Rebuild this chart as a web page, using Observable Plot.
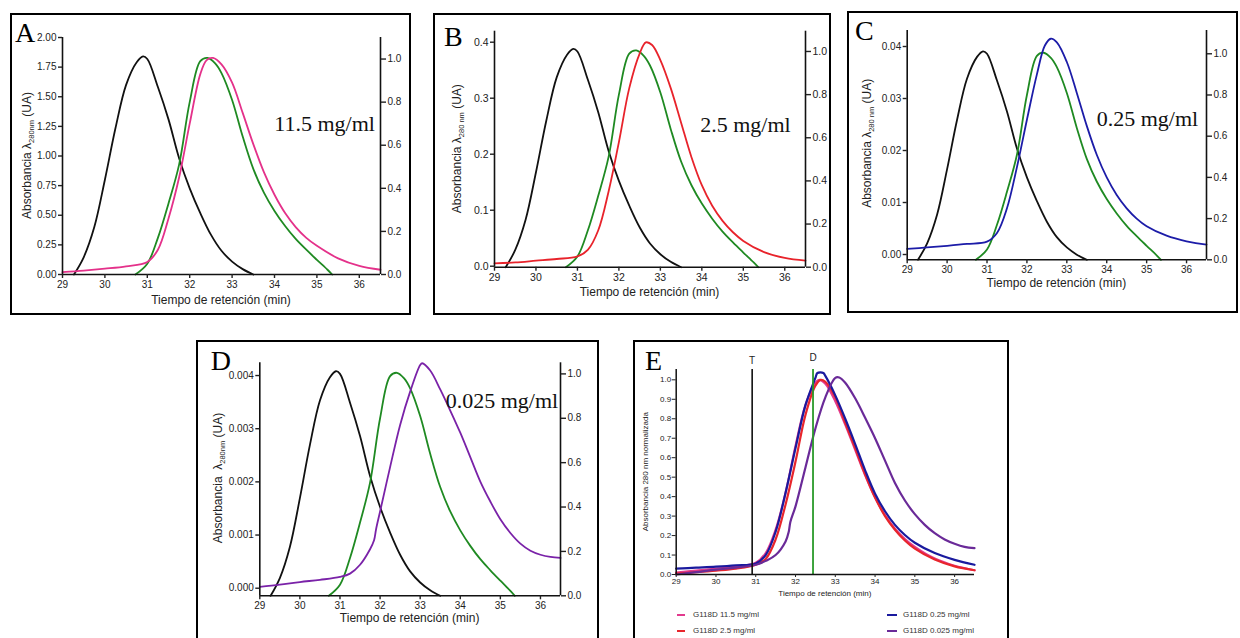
<!DOCTYPE html>
<html><head><meta charset="utf-8">
<script src="https://cdn.jsdelivr.net/npm/d3@7"></script>
<script src="https://cdn.jsdelivr.net/npm/@observablehq/plot@0.6"></script>
<style>
body{margin:0;background:#fff;width:1240px;height:638px;overflow:hidden;position:relative;font-family:"Liberation Sans",Arial,sans-serif;}
.box{position:absolute;border:2px solid #000;box-sizing:border-box;overflow:hidden;background:#fff}
.box svg{position:absolute;left:0;top:0}
.leg{position:absolute;font-size:8px;color:#333;line-height:1;white-space:nowrap}
.sw{position:absolute;height:2px}
</style></head><body>
<script>
// ---------------- DATA ----------------
// retention time axis ticks
const xTicks = [29, 30, 31, 32, 33, 34, 35, 36];
const rightTicks = [0, 0.2, 0.4, 0.6, 0.8, 1.0];

// Standard T (black), normalized
const tT = [29.27, 29.5, 29.75, 30.0, 30.25, 30.5, 30.75, 30.9, 31.0, 31.25, 31.5, 31.75, 32.0, 32.25, 32.5, 32.75, 33.0, 33.25, 33.5];
const vT = [0, 0.08, 0.22, 0.44, 0.68, 0.88, 0.985, 1.012, 1.0, 0.87, 0.72, 0.54, 0.40, 0.285, 0.185, 0.11, 0.06, 0.025, 0];

// Standard D (green), normalized
const tG = [30.72, 31.0, 31.25, 31.5, 31.75, 32.0, 32.25, 32.42, 32.6, 32.75, 33.0, 33.25, 33.5, 33.75, 34.0, 34.25, 34.5, 34.75, 35.0, 35.25, 35.36];
const vG = [0, 0.05, 0.17, 0.33, 0.51, 0.80, 0.99, 1.005, 0.98, 0.935, 0.81, 0.64, 0.49, 0.38, 0.295, 0.225, 0.165, 0.115, 0.068, 0.022, 0];

// G118D 11.5 mg/ml (panel A, pink)
const tA = [29.0, 29.5, 30.0, 30.5, 31.0, 31.25, 31.5, 31.75, 32.0, 32.25, 32.4, 32.55, 32.75, 33.0, 33.25, 33.5, 33.75, 34.0, 34.25, 34.5, 34.75, 35.0, 35.5, 36.0, 36.5];
const vA = [0.011, 0.018, 0.027, 0.038, 0.058, 0.115, 0.26, 0.45, 0.70, 0.93, 0.995, 1.005, 0.975, 0.89, 0.75, 0.605, 0.475, 0.37, 0.285, 0.22, 0.17, 0.133, 0.075, 0.04, 0.022];

// G118D 2.5 mg/ml (panel B, red)
const tB = [29.0, 29.5, 30.0, 30.5, 31.0, 31.25, 31.5, 31.75, 32.0, 32.25, 32.5, 32.65, 32.8, 33.0, 33.25, 33.5, 33.75, 34.0, 34.25, 34.5, 34.75, 35.0, 35.5, 36.0, 36.5];
const vB = [0.018, 0.022, 0.03, 0.038, 0.05, 0.08, 0.17, 0.35, 0.58, 0.83, 0.99, 1.042, 1.03, 0.96, 0.83, 0.67, 0.51, 0.38, 0.285, 0.215, 0.162, 0.122, 0.07, 0.043, 0.03];

// G118D 0.25 mg/ml (panel C, blue)
const tC = [29.0, 29.5, 30.0, 30.5, 31.0, 31.25, 31.5, 31.75, 32.0, 32.25, 32.45, 32.6, 32.75, 33.0, 33.25, 33.5, 33.75, 34.0, 34.25, 34.5, 34.75, 35.0, 35.5, 36.0, 36.5];
const vC = [0.053, 0.06, 0.068, 0.077, 0.088, 0.13, 0.25, 0.45, 0.68, 0.90, 1.04, 1.073, 1.055, 0.96, 0.81, 0.65, 0.51, 0.40, 0.315, 0.25, 0.2, 0.163, 0.117, 0.09, 0.074];

// G118D 0.025 mg/ml (panel D, purple)
const tD = [29.0, 29.5, 30.0, 30.5, 31.0, 31.25, 31.5, 31.75, 31.85, 31.9, 32.0, 32.25, 32.5, 32.75, 33.0, 33.05, 33.25, 33.5, 33.75, 34.0, 34.25, 34.5, 34.75, 35.0, 35.25, 35.5, 35.75, 36.0, 36.25, 36.5];
const vD = [0.04, 0.05, 0.062, 0.072, 0.085, 0.10, 0.14, 0.21, 0.25, 0.30, 0.38, 0.58, 0.77, 0.92, 1.04, 1.048, 1.015, 0.93, 0.835, 0.735, 0.625, 0.515, 0.425, 0.345, 0.283, 0.235, 0.203, 0.185, 0.175, 0.171];

// Panel E, normalized absorbance
const tE1 = [29.0, 29.5, 30.0, 30.5, 31.0, 31.25, 31.5, 31.75, 32.0, 32.25, 32.5, 32.6, 32.75, 33.0, 33.25, 33.5, 33.75, 34.0, 34.25, 34.5, 34.75, 35.0, 35.5, 36.0, 36.5];
const vE1 = [0.01, 0.02, 0.03, 0.04, 0.06, 0.11, 0.23, 0.42, 0.66, 0.87, 0.985, 1.0, 0.98, 0.89, 0.77, 0.64, 0.51, 0.395, 0.305, 0.235, 0.182, 0.142, 0.082, 0.045, 0.022];
const tE2 = [29.0, 29.5, 30.0, 30.5, 31.0, 31.25, 31.5, 31.75, 32.0, 32.25, 32.5, 32.63, 32.75, 33.0, 33.25, 33.5, 33.75, 34.0, 34.25, 34.5, 34.75, 35.0, 35.5, 36.0, 36.5];
const vE2 = [0.005, 0.012, 0.02, 0.03, 0.05, 0.08, 0.18, 0.36, 0.58, 0.82, 0.97, 1.0, 0.99, 0.91, 0.78, 0.65, 0.515, 0.395, 0.30, 0.23, 0.175, 0.133, 0.077, 0.042, 0.022];
const tE3 = [29.0, 29.5, 30.0, 30.5, 31.0, 31.25, 31.5, 31.75, 32.0, 32.25, 32.5, 32.55, 32.7, 32.75, 33.0, 33.25, 33.5, 33.75, 34.0, 34.25, 34.5, 34.75, 35.0, 35.5, 36.0, 36.5];
const vE3 = [0.03, 0.035, 0.04, 0.047, 0.057, 0.10, 0.22, 0.42, 0.65, 0.87, 1.01, 1.035, 1.035, 1.02, 0.92, 0.80, 0.67, 0.535, 0.415, 0.325, 0.255, 0.203, 0.163, 0.11, 0.075, 0.05];
const tE4 = [29.0, 29.5, 30.0, 30.5, 31.0, 31.25, 31.5, 31.75, 31.83, 31.87, 32.0, 32.25, 32.5, 32.75, 33.0, 33.1, 33.25, 33.5, 33.75, 34.0, 34.25, 34.5, 34.75, 35.0, 35.25, 35.5, 35.75, 36.0, 36.25, 36.5];
const vE4 = [0.0, 0.012, 0.025, 0.035, 0.05, 0.07, 0.10, 0.17, 0.22, 0.27, 0.35, 0.55, 0.75, 0.91, 1.01, 1.012, 0.985, 0.905, 0.805, 0.70, 0.585, 0.47, 0.38, 0.31, 0.255, 0.212, 0.18, 0.158, 0.142, 0.135];
const markerT = 30.91, markerD = 32.44;

// left-axis tick values and labels
const leftTicksA = [0, 0.25, 0.5, 0.75, 1.0, 1.25, 1.5, 1.75, 2.0];
const leftLabelsA = ["0.00", "0.25", "0.50", "0.75", "1.00", "1.25", "1.50", "1.75", "2.00"];
const leftTicksB = [0, 0.1, 0.2, 0.3, 0.4];
const leftLabelsB = ["0.0", "0.1", "0.2", "0.3", "0.4"];
const leftTicksC = [0, 0.01, 0.02, 0.03, 0.04];
const leftLabelsC = ["0.00", "0.01", "0.02", "0.03", "0.04"];
const leftTicksD = [0, 0.001, 0.002, 0.003, 0.004];
const leftLabelsD = ["0.000", "0.001", "0.002", "0.003", "0.004"];
const eTicks = [0, 0.1, 0.2, 0.3, 0.4, 0.5, 0.6, 0.7, 0.8, 0.9, 1.0];

const concLabels = ["11.5 mg/ml", "2.5 mg/ml", "0.25 mg/ml", "0.025 mg/ml"];
const legendLabels = ["G118D 11.5 mg/ml", "G118D 2.5 mg/ml", "G118D 0.25 mg/ml", "G118D 0.025 mg/ml"];

// ---------------- STYLE ----------------
const C_BLACK = "#111", C_GREEN = "#1f8a22";
const sampleColors = ["#e4318a", "#e8232b", "#1c1ca8", "#7a22a8"];
const eColors = ["#e23a8e", "#e8262c", "#1a1a9e", "#6a2a98"];
const FONT = "'Liberation Sans', Arial, Helvetica, sans-serif";
const SERIF = "'Liberation Serif', 'Times New Roman', serif";
const CURVE = "catmull-rom";

const rows = (t, v) => t.map((x, i) => ({t: x, v: v[i]}));

function mkBox(l, t, w, h) {
  const box = document.createElement("div");
  box.className = "box";
  Object.assign(box.style, {left: l + "px", top: t + "px", width: w + "px", height: h + "px"});
  document.body.appendChild(box);
  return box;
}

function addText(svg, x, y, txt, opts = {}) {
  return d3.select(svg).append("text").attr("x", x).attr("y", y)
    .attr("font-family", opts.family || FONT).attr("font-size", opts.size || 12)
    .attr("fill", opts.fill || "#222").attr("text-anchor", opts.anchor || "start").text(txt);
}

function panel(cfg) {
  const box = mkBox(cfg.l, cfg.t, cfg.w, cfg.h);
  const W = cfg.w - 4;
  const leftPos = cfg.leftTicks.map(v => cfg.a + cfg.b * v);
  const lab = new Map(leftPos.map((p, i) => [p, cfg.leftLabels[i]]));
  const svg = Plot.plot({
    width: W, height: cfg.svgH,
    marginLeft: cfg.mL, marginRight: cfg.mR, marginTop: cfg.mT, marginBottom: cfg.mB,
    x: {domain: [29, 36.5], label: null},
    y: {domain: [0, cfg.ymax], label: null},
    style: {fontFamily: FONT, fontSize: cfg.fs + "px", color: "#222", background: "transparent", overflow: "visible"},
    marks: [
      Plot.line(rows(tT, vT), {x: "t", y: "v", stroke: C_BLACK, strokeWidth: 1.8, curve: CURVE}),
      Plot.line(rows(tG, vG), {x: "t", y: "v", stroke: C_GREEN, strokeWidth: 1.8, curve: CURVE}),
      Plot.line(rows(cfg.ts, cfg.vs), {x: "t", y: "v", stroke: cfg.color, strokeWidth: 1.8, curve: CURVE}),
      Plot.ruleY([0], {stroke: "#111", strokeWidth: 1.6}),
      Plot.ruleX([29], {stroke: "#111", strokeWidth: 1.6}),
      Plot.ruleX([36.5], {stroke: "#111", strokeWidth: 1.6}),
      Plot.axisX(xTicks, {tickSize: 4, tickPadding: 2, tickFormat: d => String(d), label: null, strokeWidth: 1.4}),
      Plot.axisY(leftPos, {anchor: "left", tickSize: 4, tickPadding: 2, tickFormat: d => lab.get(d), label: null, strokeWidth: 1.4}),
      Plot.axisY(rightTicks, {anchor: "right", tickSize: 5, tickPadding: 2, tickFormat: d3.format(".1f"), label: null, strokeWidth: 1.4}),
      Plot.text([cfg.conc], {x: () => cfg.cx, y: () => cfg.cy, fontFamily: SERIF, fontSize: 22, fill: "#111"})
    ]
  });
  box.appendChild(svg);
  // y-axis title with subscript
  const yt = d3.select(svg).append("text")
    .attr("transform", `translate(${cfg.ytx},${cfg.yty}) rotate(-90)`)
    .attr("text-anchor", "middle").attr("font-family", FONT).attr("font-size", 12).attr("fill", "#222");
  yt.append("tspan").text(cfg.ytPre);
  yt.append("tspan").attr("font-size", 7.5).attr("dy", 3).text(cfg.ytSub);
  yt.append("tspan").attr("dy", -3).text(" (UA)");
  // x-axis title
  addText(svg, cfg.mL + (W - cfg.mL - cfg.mR) / 2, cfg.xtb, "Tiempo de retención (min)", {anchor: "middle", size: 12});
  // panel letter
  addText(svg, cfg.lx, cfg.ly, cfg.letter, {family: SERIF, size: 28, fill: "#000"});
}

panel({letter: "A", l: 10, t: 13, w: 401, h: 302, svgH: 298, mL: 50, mR: 29, mT: 22, mB: 39, ymax: 1.1, fs: 10,
  leftTicks: leftTicksA, leftLabels: leftLabelsA, a: 0, b: 0.55,
  ts: tA, vs: vA, color: sampleColors[0], conc: concLabels[0], cx: 35.18, cy: 0.70,
  ytx: 19, yty: 140.5, ytPre: "Absorbancia λ", ytSub: "280nm", xtb: 289, lx: 3, ly: 27});

panel({letter: "B", l: 433, t: 13, w: 398, h: 302, svgH: 298, mL: 59, mR: 24, mT: 15.7, mB: 46.3, ymax: 1.094, fs: 10.5,
  leftTicks: leftTicksB, leftLabels: leftLabelsB, a: 0.0046, b: 2.596,
  ts: tB, vs: vB, color: sampleColors[1], conc: concLabels[1], cx: 35.05, cy: 0.658,
  ytx: 26, yty: 133.7, ytPre: "Absorbancia λ", ytSub: "280 nm", xtb: 281, lx: 9, ly: 31});

panel({letter: "C", l: 847, t: 11, w: 391, h: 302, svgH: 298, mL: 57.7, mR: 30, mT: 17, mB: 51.7, ymax: 1.113, fs: 10,
  leftTicks: leftTicksC, leftLabels: leftLabelsC, a: 0.0257, b: 25.24,
  ts: tC, vs: vC, color: sampleColors[2], conc: concLabels[2], cx: 35.02, cy: 0.686,
  ytx: 22, yty: 130.3, ytPre: "Absorbancia λ", ytSub: "280 nm", xtb: 274, lx: 6, ly: 27});

panel({letter: "D", l: 196, t: 340, w: 403, h: 300, svgH: 296, mL: 61.3, mR: 37, mT: 20.3, mB: 42.7, ymax: 1.05, fs: 10,
  leftTicks: leftTicksD, leftLabels: leftLabelsD, a: 0.0342, b: 239.6,
  ts: tD, vs: vD, color: sampleColors[3], conc: concLabels[3], cx: 35.04, cy: 0.878,
  ytx: 24, yty: 136, ytPre: "Absorbancia  λ", ytSub: "280nm", xtb: 280, lx: 12.7, ly: 28});

// ---------------- PANEL E ----------------
(function () {
  const l = 633, t = 340, w = 376, h = 300;
  const box = mkBox(l, t, w, h);
  const W = w - 4, H = 262, mL = 40.7, mR = 33, mT = 27, mB = 30;
  const series = [[tE1, vE1], [tE2, vE2], [tE3, vE3], [tE4, vE4]];
  const svg = Plot.plot({
    width: W, height: H, marginLeft: mL, marginRight: mR, marginTop: mT, marginBottom: mB,
    x: {domain: [29, 36.5], label: null},
    y: {domain: [0, 1.053], label: null},
    style: {fontFamily: FONT, fontSize: "8px", color: "#222", background: "transparent", overflow: "visible"},
    marks: [
      ...series.map(([ts, vs], i) => Plot.line(rows(ts, vs), {x: "t", y: "v", stroke: eColors[i], strokeWidth: 2.2, curve: CURVE})),
      Plot.ruleX([markerT], {stroke: "#111", strokeWidth: 1.6}),
      Plot.ruleX([markerD], {stroke: "#2a9a2a", strokeWidth: 1.8}),
      Plot.text(["T"], {x: () => markerT, y: () => 1.053, dy: -9, fontSize: 10, fill: "#222"}),
      Plot.text(["D"], {x: () => markerD, y: () => 1.053, dy: -12, fontSize: 10, fill: "#222"}),
      Plot.ruleY([0], {stroke: "#111", strokeWidth: 1.5}),
      Plot.ruleX([29], {stroke: "#111", strokeWidth: 1.5}),
      Plot.axisX(xTicks, {tickSize: 3, tickPadding: 1, tickFormat: d => String(d), label: null}),
      Plot.axisY(eTicks, {anchor: "left", tickSize: 4, tickPadding: 1, tickFormat: d3.format(".1f"), label: null})
    ]
  });
  box.appendChild(svg);
  d3.select(svg).append("text").attr("transform", `translate(13,129.7) rotate(-90)`)
    .attr("text-anchor", "middle").attr("font-family", FONT).attr("font-size", 8).attr("fill", "#222")
    .text("Absorbancia 280 nm normalizada");
  addText(svg, mL + (W - mL - mR) / 2, 254, "Tiempo de retención (min)", {anchor: "middle", size: 8});
  addText(svg, 10, 28, "E", {family: SERIF, size: 28, fill: "#000"});

  // legend (below the plot, inside panel E)
  const legPos = [[677, 615], [677, 631], [887, 615], [887, 631]];
  legendLabels.forEach((txt, i) => {
    const [x, y] = legPos[i];
    const sw = document.createElement("div");
    sw.className = "sw";
    Object.assign(sw.style, {left: x + "px", top: (y - 1) + "px", width: (i < 2 ? 8 : 10) + "px", background: eColors[i]});
    document.body.appendChild(sw);
    const tx = document.createElement("div");
    tx.className = "leg";
    Object.assign(tx.style, {left: (x + 16) + "px", top: (y - 4.5) + "px"});
    tx.textContent = txt;
    document.body.appendChild(tx);
  });
})();
</script>
</body></html>
